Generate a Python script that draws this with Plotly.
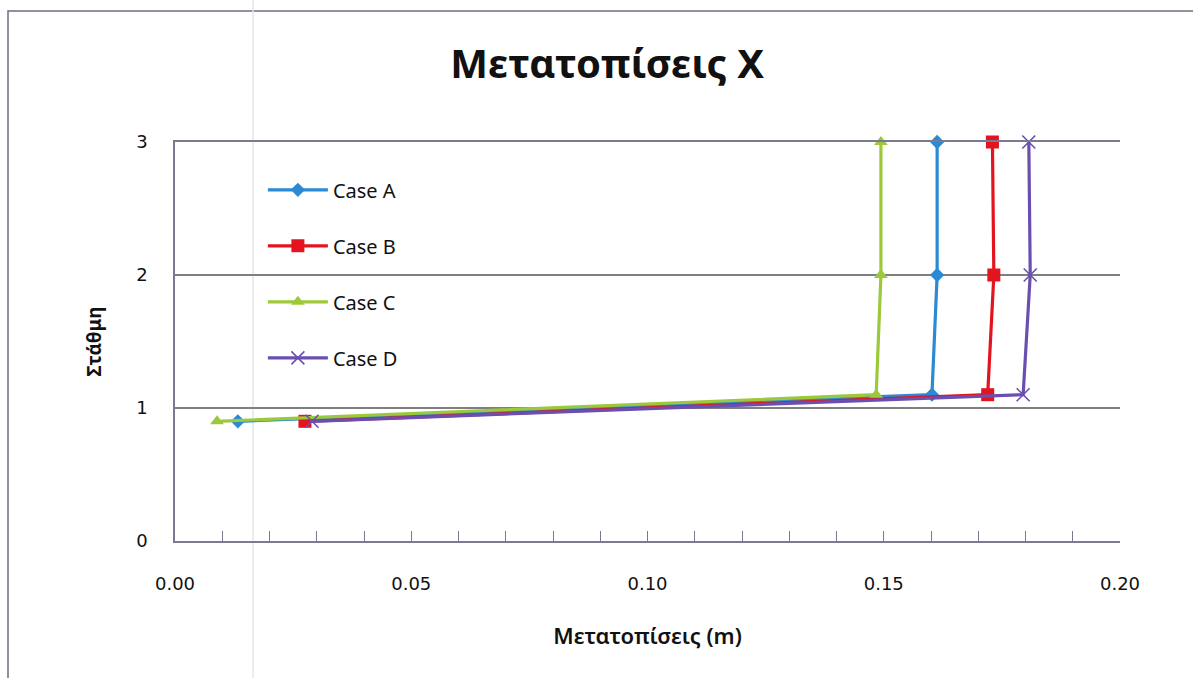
import plotly.graph_objects as go

# Storey levels at which displacements are recorded
levels = [0.9, 1.1, 2, 3]

# Horizontal displacements (m) per case, one value per level
case_a = [0.0133, 0.1602, 0.1613, 0.1613]
case_b = [0.0275, 0.1720, 0.1733, 0.1730]
case_c = [0.0089, 0.1484, 0.1494, 0.1494]
case_d = [0.0290, 0.1795, 0.1810, 0.1807]

names = ["Case A", "Case B", "Case C", "Case D"]
colors = ["#2a8ad4", "#e3141e", "#9cc93a", "#6a4fb0"]
symbols = ["diamond", "square", "triangle-up", "x-thin"]
sizes = [11, 13, 12, 13]

fig = go.Figure()
for i, (name, xs) in enumerate(zip(names, [case_a, case_b, case_c, case_d])):
    marker = dict(symbol=symbols[i], size=sizes[i], color=colors[i])
    if symbols[i] == "x-thin":
        marker["line"] = dict(color=colors[i], width=1.6)
    fig.add_trace(go.Scatter(
        x=xs, y=levels, name=name, mode="lines+markers",
        line=dict(color=colors[i], width=3.2),
        marker=marker, legendgroup=name, cliponaxis=False,
    ))

axis_col = "#7a7a90"
fig.update_layout(
    width=1193, height=678,
    margin=dict(l=175, r=73, t=142, b=137),
    paper_bgcolor="white", plot_bgcolor="white",
    title=dict(text="Μετατοπίσεις X", x=0.509, xanchor="center", y=0.905, yanchor="middle",
               font=dict(family="Noto Sans", size=40, color="#111111", weight="bold")),
    font=dict(family="DejaVu Sans", color="#111111"),
    showlegend=True,
    legend=dict(x=0.093, y=0.929, xanchor="left", yanchor="top",
                bgcolor="rgba(0,0,0,0)", traceorder="grouped", tracegroupgap=27,
                font=dict(family="Noto Sans", size=20, color="#111111"),
                itemwidth=60),
    xaxis=dict(
        range=[0, 0.2], dtick=0.05, tickformat=".2f",
        showgrid=False, zeroline=False,
        showline=True, mirror=True, linecolor=axis_col, linewidth=1.8,
        ticks="inside", ticklen=10, tickcolor=axis_col, tickwidth=1.2,
        minor=dict(dtick=0.01, ticks="inside", ticklen=10, tickcolor=axis_col, tickwidth=1.2),
        tickfont=dict(family="DejaVu Sans", size=18, color="#111111"),
        ticklabelstandoff=25,
        title=dict(text="Μετατοπίσεις (m)", standoff=36,
                   font=dict(family="Noto Sans", size=22, color="#111111", weight=600)),
    ),
    yaxis=dict(
        range=[0, 3], tickvals=[0, 1, 2, 3],
        showgrid=True, gridcolor="#7f7f7f", gridwidth=2,
        zeroline=False,
        showline=True, linecolor=axis_col, linewidth=1.5,
        ticks="", tickfont=dict(family="DejaVu Sans", size=18, color="#111111"),
        ticklabelstandoff=22,
        title=dict(text="Στάθμη", standoff=30,
                   font=dict(family="Noto Sans", size=19, color="#111111", weight="bold")),
    ),
)

# Chart-area border (left and top edges visible)
fig.add_shape(type="rect", xref="paper", yref="paper",
              x0=-167 / 945, x1=1.2, y0=-0.5, y1=(678 - 11 - 137) / 399,
              line=dict(color="#6d6d80", width=1.5), fillcolor="rgba(0,0,0,0)", layer="below")
# Faint vertical rule running through the page
fig.add_shape(type="line", xref="paper", yref="paper",
              x0=(253 - 175) / 945, x1=(253 - 175) / 945, y0=-0.5, y1=1.5,
              line=dict(color="#e6e6e6", width=1.5), layer="below")

fig.write_html("out.html")
